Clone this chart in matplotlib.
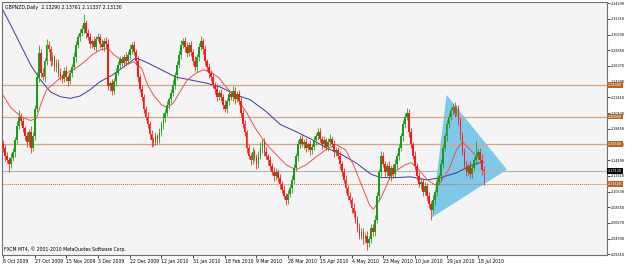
import numpy as np
import matplotlib
matplotlib.use('Agg')
import matplotlib.pyplot as plt
import matplotlib.transforms as mtransforms
from matplotlib import font_manager
from matplotlib.font_manager import FontProperties
from matplotlib.textpath import TextPath
from matplotlib.patches import Polygon

# daily closes, GBPNZD
first_open = 2.1650
closes = [
    2.160, 2.150, 2.145, 2.140, 2.148, 2.155, 2.170, 2.188, 2.200, 2.195,
    2.185, 2.175, 2.168, 2.180, 2.160, 2.175, 2.210, 2.250, 2.280, 2.255,
    2.250, 2.270, 2.290, 2.285, 2.270, 2.275, 2.262, 2.268, 2.255, 2.250,
    2.248, 2.258, 2.250, 2.245, 2.255, 2.262, 2.275, 2.290, 2.300, 2.305,
    2.310, 2.318, 2.305, 2.300, 2.292, 2.295, 2.288, 2.298, 2.300, 2.292,
    2.288, 2.295, 2.292, 2.238, 2.242, 2.232, 2.245, 2.255, 2.265, 2.272,
    2.268, 2.275, 2.270, 2.278, 2.285, 2.290, 2.282, 2.270, 2.250, 2.235,
    2.225, 2.210, 2.200, 2.190, 2.178, 2.170, 2.168, 2.175, 2.172, 2.180,
    2.190, 2.198, 2.205, 2.215, 2.222, 2.230, 2.240, 2.252, 2.265, 2.278,
    2.290, 2.295, 2.288, 2.280, 2.290, 2.282, 2.270, 2.262, 2.275, 2.288,
    2.295, 2.285, 2.270, 2.262, 2.255, 2.250, 2.240, 2.235, 2.225, 2.230,
    2.225, 2.215, 2.210, 2.220, 2.228, 2.225, 2.232, 2.222, 2.228, 2.220,
    2.205, 2.190, 2.180, 2.160, 2.150, 2.145, 2.155, 2.148, 2.140, 2.150,
    2.160, 2.168, 2.155, 2.150, 2.145, 2.138, 2.130, 2.125, 2.130, 2.122,
    2.115, 2.108, 2.100, 2.095, 2.102, 2.110, 2.120, 2.135, 2.150, 2.165,
    2.172, 2.165, 2.168, 2.160, 2.165, 2.158, 2.162, 2.170, 2.175, 2.180,
    2.172, 2.165, 2.170, 2.162, 2.168, 2.172, 2.165, 2.155, 2.158, 2.150,
    2.140, 2.130, 2.120, 2.110, 2.100, 2.095, 2.085, 2.078, 2.070, 2.060,
    2.050, 2.055, 2.045, 2.050, 2.040, 2.045, 2.060, 2.055, 2.070, 2.100,
    2.130, 2.150, 2.140, 2.130, 2.138, 2.125, 2.135, 2.128, 2.140, 2.150,
    2.160, 2.175, 2.190, 2.200, 2.205, 2.180, 2.165, 2.150, 2.138, 2.125,
    2.115, 2.118, 2.105, 2.112, 2.100, 2.090, 2.082, 2.095, 2.105, 2.118,
    2.125, 2.140, 2.160, 2.175, 2.190, 2.200, 2.208, 2.212, 2.205, 2.210,
    2.195, 2.175, 2.155, 2.140, 2.130, 2.138, 2.128, 2.135, 2.145, 2.150,
    2.155, 2.145, 2.1329, 2.1313,
]
# shadow lengths above / below the body
wick_hi = [
    0.006, 0.004, 0.005, 0.004, 0.006, 0.005, 0.004, 0.006, 0.008, 0.004,
    0.005, 0.003, 0.006, 0.004, 0.008, 0.005, 0.004, 0.006, 0.010, 0.005,
    0.006, 0.004, 0.008, 0.005, 0.004, 0.006, 0.003, 0.005, 0.004, 0.006,
    0.004, 0.005, 0.006, 0.003, 0.005, 0.004, 0.006, 0.005, 0.004, 0.006,
    0.005, 0.011, 0.004, 0.006, 0.005, 0.003, 0.006, 0.004, 0.005, 0.004,
    0.006, 0.004, 0.005, 0.006, 0.003, 0.005, 0.004, 0.006, 0.005, 0.004,
    0.005, 0.004, 0.006, 0.005, 0.007, 0.004, 0.005, 0.003, 0.006, 0.004,
    0.005, 0.004, 0.003, 0.006, 0.004, 0.005, 0.004, 0.006, 0.003, 0.005,
    0.004, 0.006, 0.005, 0.004, 0.003, 0.005, 0.006, 0.004, 0.005, 0.006,
    0.007, 0.004, 0.005, 0.006, 0.004, 0.005, 0.003, 0.006, 0.004, 0.005,
    0.006, 0.004, 0.005, 0.003, 0.006, 0.004, 0.005, 0.004, 0.006, 0.003,
    0.005, 0.004, 0.006, 0.003, 0.005, 0.004, 0.006, 0.005, 0.004, 0.006,
    0.005, 0.004, 0.006, 0.003, 0.005, 0.004, 0.006, 0.004, 0.005, 0.006,
    0.008, 0.004, 0.005, 0.006, 0.003, 0.005, 0.004, 0.006, 0.005, 0.004,
    0.005, 0.004, 0.006, 0.003, 0.005, 0.004, 0.006, 0.005, 0.004, 0.006,
    0.005, 0.006, 0.004, 0.005, 0.003, 0.006, 0.004, 0.005, 0.004, 0.006,
    0.005, 0.004, 0.006, 0.003, 0.005, 0.006, 0.004, 0.005, 0.004, 0.003,
    0.006, 0.004, 0.005, 0.006, 0.004, 0.005, 0.003, 0.006, 0.004, 0.005,
    0.006, 0.004, 0.005, 0.003, 0.006, 0.004, 0.005, 0.004, 0.006, 0.005,
    0.004, 0.006, 0.005, 0.004, 0.003, 0.006, 0.004, 0.005, 0.006, 0.004,
    0.005, 0.004, 0.006, 0.005, 0.006, 0.004, 0.005, 0.003, 0.006, 0.004,
    0.005, 0.004, 0.003, 0.006, 0.004, 0.005, 0.004, 0.006, 0.003, 0.005,
    0.004, 0.006, 0.005, 0.004, 0.006, 0.005, 0.004, 0.005, 0.006, 0.004,
    0.005, 0.004, 0.006, 0.005, 0.004, 0.003, 0.006, 0.005, 0.004, 0.019,
    0.004, 0.005, 0.008, 0.0047,
]
wick_lo = [
    0.005, 0.006, 0.004, 0.010, 0.005, 0.004, 0.006, 0.005, 0.004, 0.006,
    0.005, 0.004, 0.006, 0.005, 0.006, 0.004, 0.005, 0.004, 0.006, 0.005,
    0.004, 0.006, 0.005, 0.004, 0.006, 0.005, 0.004, 0.006, 0.005, 0.004,
    0.006, 0.004, 0.005, 0.006, 0.004, 0.005, 0.003, 0.006, 0.004, 0.005,
    0.004, 0.005, 0.006, 0.004, 0.005, 0.006, 0.004, 0.005, 0.003, 0.006,
    0.004, 0.005, 0.006, 0.004, 0.006, 0.005, 0.004, 0.006, 0.003, 0.005,
    0.004, 0.006, 0.005, 0.004, 0.005, 0.006, 0.004, 0.005, 0.006, 0.004,
    0.005, 0.006, 0.004, 0.005, 0.006, 0.008, 0.005, 0.004, 0.006, 0.005,
    0.004, 0.006, 0.005, 0.004, 0.006, 0.005, 0.004, 0.005, 0.006, 0.004,
    0.005, 0.004, 0.006, 0.005, 0.004, 0.006, 0.005, 0.004, 0.006, 0.005,
    0.004, 0.006, 0.005, 0.004, 0.006, 0.005, 0.004, 0.006, 0.005, 0.004,
    0.006, 0.005, 0.004, 0.006, 0.005, 0.004, 0.005, 0.006, 0.004, 0.005,
    0.006, 0.004, 0.005, 0.006, 0.004, 0.006, 0.005, 0.004, 0.006, 0.005,
    0.004, 0.006, 0.005, 0.004, 0.006, 0.005, 0.004, 0.006, 0.005, 0.004,
    0.006, 0.005, 0.004, 0.007, 0.005, 0.004, 0.006, 0.005, 0.004, 0.006,
    0.005, 0.004, 0.006, 0.005, 0.004, 0.006, 0.005, 0.004, 0.006, 0.005,
    0.004, 0.006, 0.005, 0.004, 0.006, 0.005, 0.004, 0.006, 0.005, 0.004,
    0.006, 0.005, 0.004, 0.006, 0.005, 0.004, 0.006, 0.005, 0.004, 0.006,
    0.005, 0.004, 0.006, 0.005, 0.008, 0.005, 0.004, 0.006, 0.005, 0.004,
    0.006, 0.005, 0.004, 0.006, 0.005, 0.004, 0.006, 0.005, 0.004, 0.006,
    0.005, 0.004, 0.006, 0.005, 0.004, 0.006, 0.005, 0.004, 0.006, 0.005,
    0.004, 0.006, 0.005, 0.004, 0.006, 0.005, 0.012, 0.004, 0.006, 0.005,
    0.004, 0.006, 0.005, 0.004, 0.006, 0.005, 0.004, 0.006, 0.005, 0.004,
    0.006, 0.005, 0.004, 0.006, 0.005, 0.004, 0.006, 0.005, 0.004, 0.006,
    0.005, 0.004, 0.006, 0.0179,
]

# moving averages (bar index, value)
slow_ma_idx = [0, 4, 9, 14, 19, 24, 29, 34, 39, 44, 49, 55, 60, 67, 72, 80, 87, 95, 103, 110,
               118, 125, 133, 140, 148, 156, 163, 171, 178, 186, 191, 198, 206, 214, 221, 229, 236, 241]
slow_ma_val = [2.334, 2.315, 2.290, 2.265, 2.246, 2.231, 2.225, 2.223, 2.226, 2.234,
               2.244, 2.252, 2.261, 2.274, 2.269, 2.259, 2.250, 2.246, 2.242, 2.237,
               2.227, 2.221, 2.206, 2.190, 2.181, 2.171, 2.161, 2.152, 2.142, 2.127,
               2.123, 2.123, 2.124, 2.120, 2.123, 2.129, 2.138, 2.142]
fast_ma_idx = [0, 4, 9, 14, 17, 19, 22, 25, 29, 33, 38, 42, 45, 49, 53, 56, 60, 63, 66, 70,
               73, 76, 80, 83, 86, 90, 93, 97, 101, 105, 109, 113, 118, 123, 128, 133, 138, 143, 148, 153,
               158, 163, 168, 173, 177, 181, 185, 187, 191, 195, 198, 203, 206, 210, 214, 218, 221, 225, 229, 232,
               236, 240, 243]
fast_ma_val = [2.227, 2.211, 2.200, 2.195, 2.198, 2.215, 2.234, 2.240, 2.249, 2.256,
               2.263, 2.271, 2.278, 2.284, 2.286, 2.278, 2.271, 2.266, 2.269, 2.261,
               2.240, 2.227, 2.215, 2.211, 2.217, 2.234, 2.246, 2.254, 2.259, 2.256,
               2.249, 2.236, 2.224, 2.205, 2.183, 2.165, 2.152, 2.139, 2.133, 2.139,
               2.149, 2.158, 2.165, 2.158, 2.139, 2.114, 2.089, 2.083, 2.098, 2.121,
               2.131, 2.139, 2.142, 2.133, 2.121, 2.114, 2.117, 2.133, 2.158, 2.168,
               2.158, 2.148, 2.142]

date_labels = ['8 Oct 2009', '27 Oct 2009', '15 Nov 2009', '3 Dec 2009', '22 Dec 2009',
               '12 Jan 2010', '31 Jan 2010', '18 Feb 2010', '9 Mar 2010', '28 Mar 2010',
               '15 Apr 2010', '4 May 2010', '23 May 2010', '10 Jun 2010', '29 Jun 2010', '18 Jul 2010']
date_idx = [0, 16, 32, 48, 64, 80, 96, 112, 128, 144, 160, 176, 192, 208, 224, 240]

price_ticks = [2.34298, 2.32318, 2.30338, 2.28358, 2.26378, 2.24398, 2.22418, 2.20438, 2.18458,
               2.16478, 2.14498, 2.12518, 2.10538, 2.08558, 2.06578, 2.04598, 2.02618]

levels = [2.24000, 2.20000, 2.16500]
dotted_level = 2.11500
bid = 2.13130

# triangle object (bar index, price)
tri_idx = [224, 216.5, 254.5]
tri_price = [2.2273, 2.0727, 2.1331]

header = 'GBPNZD,Daily  2.13290 2.13761 2.11337 2.13130'
footer = 'FXCM MT4, \u00a9 2001-2010 MetaQuotes Software Corp.'

# pick a narrow / condensed face if the box has one (MT4 text is very narrow)
fp = None
order = ['Liberation Sans Narrow', 'DejaVu Sans', 'Roboto', 'Noto Sans', 'Open Sans', 'Liberation Sans']
cands = [f for f in font_manager.fontManager.ttflist
         if f.stretch in ('condensed', 'semi-condensed') and f.style == 'normal'
         and f.weight in (400, 'normal', 'regular', 'book')]
for fam in order:
    hit = [f for f in cands if f.name == fam]
    if hit:
        fp = FontProperties(fname=hit[0].fname)
        break
if fp is None:
    narrow = [f for f in font_manager.fontManager.ttflist if f.name == 'Liberation Sans Narrow']
    fp = FontProperties(fname=narrow[0].fname) if narrow else FontProperties(family='Liberation Sans')

# size so that a date label is ~28 px wide, like the reference
w10 = TextPath((0, 0), '27 Oct 2009', size=10, prop=fp).get_extents().width
fs = min(4.8, 10 * (28 * 0.72) / w10)
# price scale text has to fit in the ~14 px right of the frame
w10y = TextPath((0, 0), '2.34298', size=10, prop=fp).get_extents().width
fs_y = min(fs, 10 * (13.5 * 0.72) / w10y)

# ---- build OHLC
c = np.array(closes)
o = np.concatenate([[first_open], c[:-1]])
hi = np.maximum(o, c) + np.array(wick_hi)
lo = np.minimum(o, c) - np.array(wick_lo)
x = np.arange(len(c))
up = c >= o

fig = plt.figure(figsize=(6.25, 2.65), dpi=100, facecolor='white')
ax = fig.add_axes([0.0032, 0.038, 0.9680, 0.9545])
ax.set_facecolor('#f4f4f4')

ax.add_patch(Polygon(list(zip(tri_idx, tri_price)), closed=True, facecolor='#80c8ea',
                     edgecolor='none', zorder=1))

for lv in levels:
    ax.axhline(lv, color='#d0a888', lw=0.9, zorder=1.5)
ax.axhline(dotted_level, color='#d26a2a', lw=0.7, ls=(0, (1, 1)), zorder=1.5)
ax.axhline(bid, color='#a8b8bc', lw=0.8, zorder=1.5)

ax.plot(slow_ma_idx, slow_ma_val, color='#3c3c9a', lw=0.7, zorder=2)
ax.plot(fast_ma_idx, fast_ma_val, color='#f05050', lw=0.7, zorder=2)

col = np.where(up, '#1c9a1c', '#ff1a1a')
ax.vlines(x, lo, hi, colors=col, lw=0.55, zorder=3)
body_h = np.maximum(np.abs(c - o), 0.0008)
ax.bar(x, body_h, bottom=np.minimum(o, c), width=0.9, color=col, linewidth=0, zorder=3)

ax.set_xlim(-0.5, 305)
ax.set_ylim(2.0255, 2.3445)

ax.yaxis.tick_right()
ax.set_yticks(price_ticks)
ax.set_yticklabels([f'{p:.5f}' for p in price_ticks])
ax.tick_params(axis='y', length=2, width=0.5, pad=0.8, colors='black')

ax.set_xticks(date_idx)
ax.set_xticklabels(date_labels, ha='left')
ax.tick_params(axis='x', length=2, width=0.5, pad=1)

for lab in ax.get_xticklabels():
    lab.set_fontproperties(fp)
    lab.set_fontsize(fs)
for lab in ax.get_yticklabels():
    lab.set_fontproperties(fp)
    lab.set_fontsize(fs_y)

for s in ax.spines.values():
    s.set_color('#707070')
    s.set_linewidth(0.8)

trans = mtransforms.blended_transform_factory(ax.transAxes, ax.transData)
for lv in levels + [dotted_level]:
    ax.text(1.002, lv, f'{lv:.5f}', transform=trans, fontproperties=fp, fontsize=fs_y, color='white',
            va='center', ha='left', bbox=dict(facecolor='#b8662c', edgecolor='none', pad=0.6),
            zorder=5, clip_on=False)
ax.text(1.002, bid, f'{bid:.5f}', transform=trans, fontproperties=fp, fontsize=fs_y, color='white',
        va='center', ha='left', bbox=dict(facecolor='black', edgecolor='none', pad=0.6),
        zorder=5, clip_on=False)

ax.text(0.005, 0.988, header, transform=ax.transAxes, fontproperties=fp, fontsize=fs, va='top', ha='left')
ax.text(0.003, 0.012, footer, transform=ax.transAxes, fontproperties=fp, fontsize=fs, va='bottom', ha='left')

fig.savefig('out.png', dpi=100, facecolor='white')
